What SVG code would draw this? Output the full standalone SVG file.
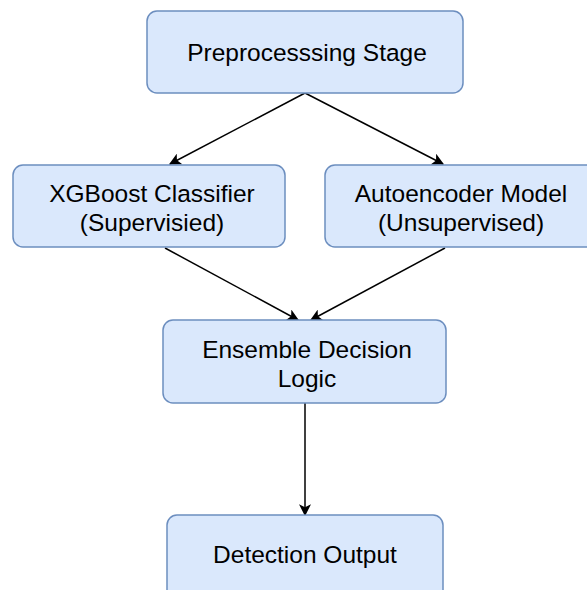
<svg xmlns="http://www.w3.org/2000/svg" width="587" height="590" viewBox="0 0 587 590">
<defs>
<style>
.box{fill:#dae8fc;stroke:#6c8ebf;stroke-width:1.5}
.t{font-family:"Liberation Sans",Arial,sans-serif;font-size:24.5px;fill:#000;text-anchor:middle}
.c{stroke:#000;stroke-width:1.5;fill:none;marker-end:url(#ah)}
</style>
<marker id="ah" viewBox="0 0 10 10" refX="9" refY="5" markerWidth="12" markerHeight="12" markerUnits="userSpaceOnUse" orient="auto">
<path d="M0,0 L10,5 L0,10 L2.5,5 Z" fill="#000"/>
</marker>
</defs>
<rect width="587" height="590" fill="#fff"/>
<g id="connectors">
<line class="c" x1="305" y1="93" x2="170" y2="164"/>
<line class="c" x1="305" y1="93" x2="443" y2="164"/>
<line class="c" x1="165" y1="248" x2="298" y2="320"/>
<line class="c" x1="445" y1="248" x2="311" y2="320"/>
<line class="c" x1="305" y1="403" x2="305" y2="515"/>
</g>
<g id="preprocessing">
<rect class="box" x="147" y="11" width="316" height="82" rx="10"/>
<text class="t" x="307" y="61">Preprocesssing Stage</text>
</g>
<g id="xgboost">
<rect class="box" x="13" y="165" width="272" height="82" rx="10"/>
<text class="t" x="152" y="202">XGBoost Classifier</text>
<text class="t" x="152" y="231">(Supervisied)</text>
</g>
<g id="autoencoder">
<rect class="box" x="325" y="165" width="280" height="82" rx="10"/>
<text class="t" x="461" y="202">Autoencoder Model</text>
<text class="t" x="461" y="231">(Unsupervised)</text>
</g>
<g id="ensemble">
<rect class="box" x="163" y="320" width="283" height="83" rx="10"/>
<text class="t" x="307" y="358">Ensemble Decision</text>
<text class="t" x="307" y="387">Logic</text>
</g>
<g id="output">
<rect class="box" x="167" y="515" width="276" height="90" rx="10"/>
<text class="t" x="305" y="563">Detection Output</text>
</g>
</svg>
